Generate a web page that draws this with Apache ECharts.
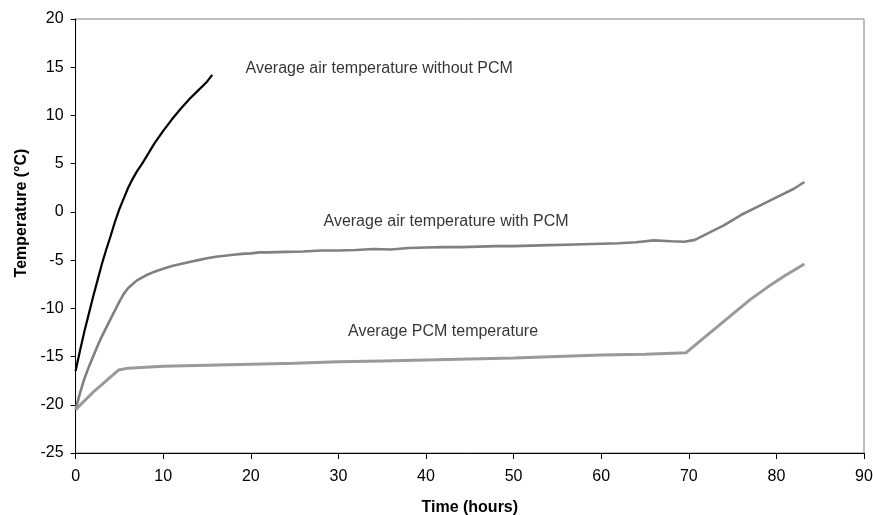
<!DOCTYPE html>
<html>
<head>
<meta charset="utf-8">
<script src="https://cdn.jsdelivr.net/npm/echarts@6/dist/echarts.min.js"></script>
<style>html,body{margin:0;padding:0;background:#fff}#c{width:873px;height:515px}</style>
</head>
<body>
<div id="c"></div>
<script>
// Time (hours) and temperature (°C) for each curve
var airNoPcm = [
  [0,-16.5],[0.5,-14.4],[1,-12.4],[1.5,-10.6],[2,-8.8],[2.5,-7.1],[3,-5.4],[3.5,-3.9],
  [4,-2.5],[4.5,-1.0],[5,0.3],[5.5,1.4],[6,2.5],[6.5,3.4],[7,4.2],[7.6,5.0],[8,5.6],
  [9,7.1],[10,8.4],[11,9.6],[12,10.7],[13,11.7],[14,12.6],[15,13.5],[15.6,14.2]
];
var airPcm = [
  [0,-20.5],[0.5,-18.8],[1,-17.3],[1.5,-16.1],[2,-15.0],[2.5,-13.9],[3,-12.9],[3.5,-12.0],
  [4,-11.1],[4.5,-10.2],[5,-9.3],[5.5,-8.5],[6,-7.9],[6.5,-7.5],[7,-7.1],[8,-6.6],[9,-6.2],
  [10,-5.9],[11,-5.6],[12,-5.4],[13,-5.2],[14,-5.0],[15,-4.8],[16,-4.65],[17,-4.55],
  [18,-4.45],[19,-4.35],[20,-4.3],[21,-4.2],[22,-4.2],[24,-4.15],[26,-4.1],[28,-4.0],
  [30,-4.0],[32,-3.95],[34,-3.85],[36,-3.9],[38,-3.75],[40,-3.7],[42,-3.65],[44,-3.65],
  [46,-3.6],[48,-3.55],[50,-3.55],[52,-3.5],[54,-3.45],[56,-3.4],[58,-3.35],[60,-3.3],
  [62,-3.25],[64,-3.15],[66,-2.95],[68,-3.05],[69.5,-3.1],[70.7,-2.9],[72,-2.3],[74,-1.4],
  [76,-0.3],[78,0.6],[80,1.5],[82,2.4],[83.2,3.1]
];
var pcmTemp = [
  [0,-20.5],[1,-19.6],[2,-18.7],[3,-17.9],[4,-17.1],[4.9,-16.4],[6,-16.2],[8,-16.1],
  [10,-16.0],[15,-15.9],[20,-15.8],[25,-15.7],[30,-15.55],[35,-15.45],[40,-15.35],
  [45,-15.25],[50,-15.15],[55,-15.0],[60,-14.85],[65,-14.75],[69.7,-14.6],[71,-13.6],
  [73,-12.1],[75,-10.6],[77,-9.1],[79,-7.8],[81,-6.6],[83.2,-5.4]
];
// Annotation texts anchored at data coordinates [time, temperature, text]
var annotations = [
  [19.4, 14.9, 'Average air temperature without PCM'],
  [28.3, -1.05, 'Average air temperature with PCM'],
  [31.1, -12.45, 'Average PCM temperature']
];
var xTicks = {min:0, max:90, interval:10};
var yTicks = {min:-25, max:20, interval:5};

var chart = echarts.init(document.getElementById('c'), null, {renderer:'canvas'});
var font = 'Liberation Sans, Arial, sans-serif';
chart.setOption({
  animation:false,
  backgroundColor:'#fff',
  grid:{left:75.6, right:9, top:19, bottom:62, containLabel:false, outerBoundsMode:'none',
        show:true, borderColor:'#808080', borderWidth:1, backgroundColor:'transparent'},
  xAxis:{
    type:'value', min:xTicks.min, max:xTicks.max, interval:xTicks.interval,
    name:'Time (hours)', nameLocation:'middle', nameGap:47,
    nameTextStyle:{fontFamily:font, fontSize:16, fontWeight:'bold', color:'#000'},
    axisLine:{onZero:false, lineStyle:{color:'#000', width:1}},
    axisTick:{show:true, length:6, inside:false, lineStyle:{color:'#000'}},
    axisLabel:{fontFamily:font, fontSize:16, color:'#000', margin:16},
    splitLine:{show:false}
  },
  yAxis:{
    type:'value', min:yTicks.min, max:yTicks.max, interval:yTicks.interval,
    name:'Temperature (°C)', nameLocation:'middle', nameGap:46,
    nameTextStyle:{fontFamily:font, fontSize:16, fontWeight:'bold', color:'#000', padding:[0,0,0,46]},
    axisLine:{show:true, onZero:false, lineStyle:{color:'#000', width:1}},
    axisTick:{show:true, length:5, lineStyle:{color:'#000'}},
    axisLabel:{fontFamily:font, fontSize:16, color:'#000', margin:12},
    splitLine:{show:false}
  },
  series:[
    {type:'line', data:airNoPcm, showSymbol:false, lineStyle:{color:'#000', width:2.2}, smooth:false},
    {type:'line', data:airPcm, showSymbol:false, lineStyle:{color:'#808080', width:2.6}},
    {type:'line', data:pcmTemp, showSymbol:false, lineStyle:{color:'#9a9a9a', width:3}},
    {type:'scatter', data:annotations.map(function(a){return {value:[a[0],a[1]], label:{formatter:a[2]}};}),
     symbolSize:0, silent:true,
     label:{show:true, position:'right', distance:0, fontFamily:font, fontSize:16, color:'#000'}}
  ]
});
</script>
</body>
</html>
